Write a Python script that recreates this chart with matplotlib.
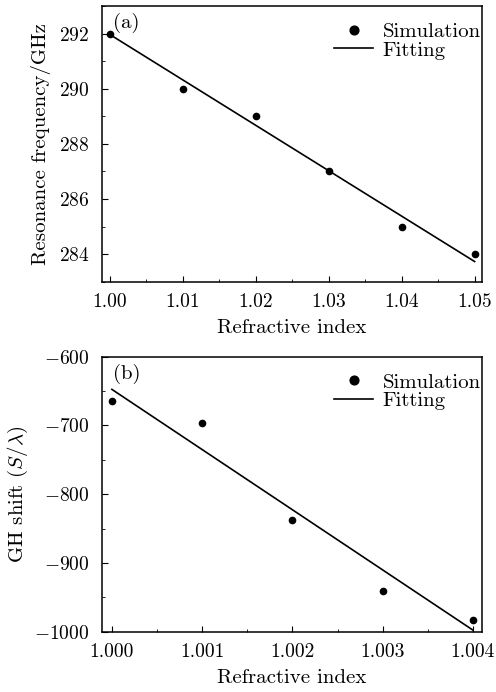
import matplotlib
matplotlib.use('Agg')
import matplotlib.pyplot as plt
from matplotlib.ticker import MultipleLocator

plt.rcParams['font.family'] = 'serif'
plt.rcParams['font.serif'] = ['cmr10']
plt.rcParams['mathtext.fontset'] = 'cm'
plt.rcParams['axes.formatter.use_mathtext'] = True
plt.rcParams['font.size'] = 15

# (a) resonance frequency vs refractive index
n_a = [1.00, 1.01, 1.02, 1.03, 1.04, 1.05]
freq_a = [292, 290, 289, 287, 285, 284]
fit_n_a = [1.00, 1.05]
fit_freq_a = [291.97, 283.73]

# (b) GH shift vs refractive index
n_b = [1.000, 1.001, 1.002, 1.003, 1.004]
gh_b = [-664.5, -696, -837.6, -940.8, -983]
fit_n_b = [1.000, 1.004]
fit_gh_b = [-647.5, -997.6]

fig = plt.figure(figsize=(4.96, 6.92), dpi=100)
ax1 = fig.add_axes([0.2056, 0.593, 0.766, 0.398])
ax2 = fig.add_axes([0.2056, 0.0871, 0.766, 0.3974])

for ax, x, y, fx, fy, tag in [(ax1, n_a, freq_a, fit_n_a, fit_freq_a, '(a)'),
                              (ax2, n_b, gh_b, fit_n_b, fit_gh_b, '(b)')]:
    ax.plot(x, y, 'o', color='black', markersize=4.5, label='Simulation')
    ax.plot(fx, fy, '-', color='black', linewidth=1.2, label='Fitting')
    ax.tick_params(direction='in', which='both', top=False, right=False,
                   labelsize=14)
    ax.tick_params(axis='y', which='major', length=4, pad=9)
    ax.tick_params(axis='x', which='major', length=4, pad=8)
    ax.tick_params(which='minor', length=2.5)
    for s in ax.spines.values():
        s.set_linewidth(1.1)
    ax.text(0.03, 0.975, tag, transform=ax.transAxes, ha='left', va='top')
    leg = ax.legend(loc='upper right', bbox_to_anchor=(1.022, 0.975),
                    frameon=False, handlelength=1.9, handletextpad=0.45,
                    borderaxespad=0.05, labelspacing=0.0, markerscale=1.4)
    ax.set_xlabel('Refractive index', labelpad=6)

ax1.set_xlim(0.9989, 1.051)
ax1.set_ylim(283, 293)
ax1.xaxis.set_major_locator(MultipleLocator(0.01))
ax1.xaxis.set_minor_locator(MultipleLocator(0.005))
ax1.yaxis.set_major_locator(MultipleLocator(2))
ax1.yaxis.set_minor_locator(MultipleLocator(1))
ax1.xaxis.set_major_formatter(plt.FormatStrFormatter('%.2f'))
ax1.set_ylabel('Resonance frequency/GHz')
ax1.yaxis.set_label_coords(-0.133, 0.5)

ax2.set_xlim(0.99989, 1.0041)
ax2.set_ylim(-1000, -600)
ax2.xaxis.set_major_locator(MultipleLocator(0.001))
ax2.xaxis.set_minor_locator(MultipleLocator(0.0005))
ax2.yaxis.set_major_locator(MultipleLocator(100))
ax2.yaxis.set_minor_locator(MultipleLocator(50))
ax2.xaxis.set_major_formatter(plt.FormatStrFormatter('%.3f'))
ax2.yaxis.set_major_formatter(plt.FuncFormatter(lambda v, p: r'$%d$' % v))
ax2.set_ylabel(r'GH shift ($S/\lambda$)')
ax2.yaxis.set_label_coords(-0.19, 0.5)

fig.savefig('out.png', dpi=100)
